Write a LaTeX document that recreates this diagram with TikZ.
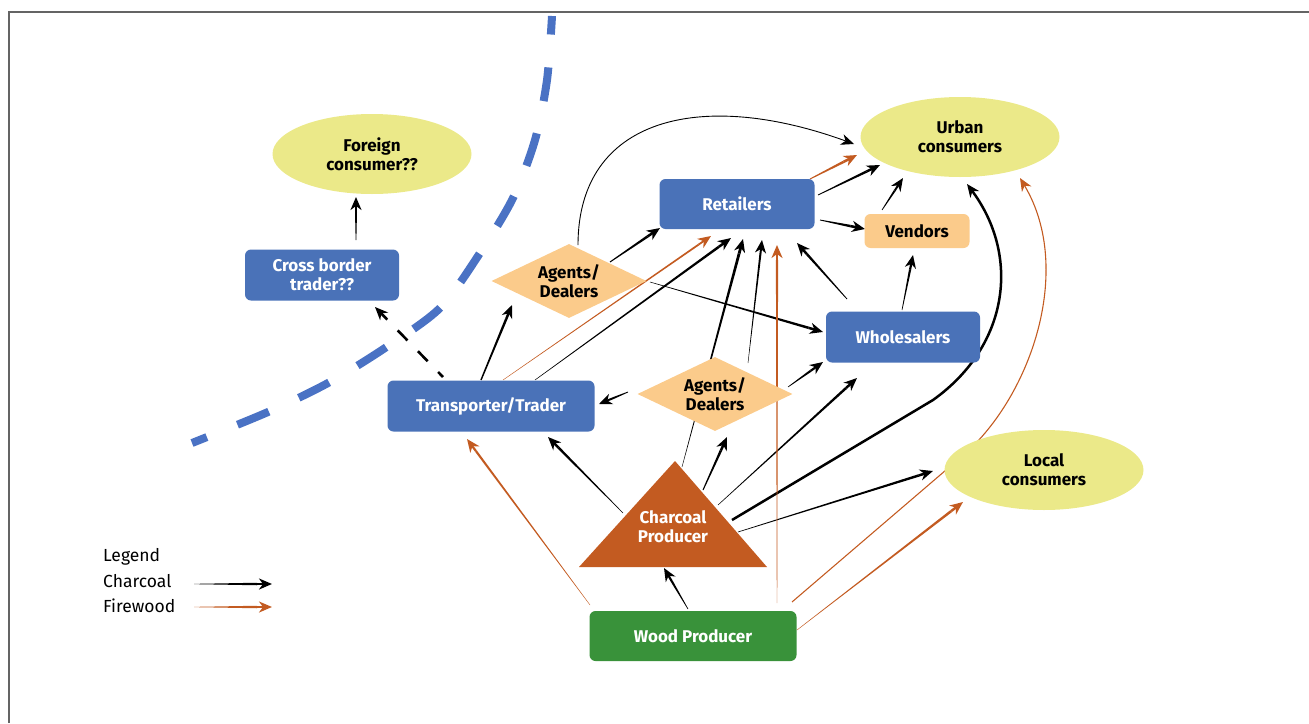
\documentclass[tikz,border=0pt]{standalone}
\usepackage{fontspec}
\setmainfont{Fira Sans}
\usetikzlibrary{shapes.geometric,arrows.meta,calc}
\definecolor{bluebox}{RGB}{74,114,184}
\definecolor{dashblue}{RGB}{74,114,196}
\definecolor{yell}{RGB}{235,233,137}
\definecolor{lorange}{RGB}{251,203,139}
\definecolor{fwc}{RGB}{195,91,33}
\definecolor{woodgreen}{RGB}{57,146,58}
\definecolor{framegray}{RGB}{100,100,100}
\pgfdeclarelayer{bg}
\pgfdeclarelayer{mid}
\pgfsetlayers{bg,mid,main}
% tapered arrow: #1 colour, #2 start, #3 end, #4 start width, #5 end width
\newcommand{\tap}[5]{%
  \coordinate (tS) at #2;
  \coordinate (tE) at #3;
  \coordinate (tB) at ($(tE)!15pt!(tS)$);
  \pgfmathsetmacro\tapA{#4/2}%
  \pgfmathsetmacro\tapB{#5/2}%
  \fill[#1] ($(tS)!\tapA pt!90:(tB)$) -- ($(tS)!\tapA pt!-90:(tB)$) --
            ($(tB)!\tapB pt!90:(tS)$) -- ($(tB)!\tapB pt!-90:(tS)$) -- cycle;
  \draw[#1, line width=#5, ->] (tB) -- (tE);
}
\begin{document}
\begin{tikzpicture}[x=1pt,y=-1pt,
  >={Stealth[length=13pt,width=11pt,inset=4pt]},
  lbl/.style={font=\bfseries\fontsize{17}{19}\selectfont, align=center, inner sep=0pt},
  bbox/.style={lbl, fill=bluebox, text=white, rounded corners=6pt, minimum width=#1, minimum height=51pt},
  oval/.style={lbl, ellipse, fill=yell, minimum width=199pt, minimum height=80pt},
  dia/.style={lbl, diamond, fill=lorange, aspect=2.1, minimum width=155pt, minimum height=74pt},
  legtext/.style={anchor=base west, inner sep=0pt, font=\fontsize{17.5}{20}\selectfont},
]
\useasboundingbox (0,0) rectangle (1309,723);

% frame
\draw[framegray, line width=1.3pt] (9,723) -- (9,12) -- (1309,12);

% border line
\draw[dashblue, line width=8pt, dash pattern=on 34pt off 33pt, dash phase=18pt]
  plot[smooth] coordinates {(192,443) (268,412) (328,383) (385,348) (440,308) (480,253) (513,198) (535,140) (547,80) (552,16)};

% nodes
\node[oval] (fc) at (372,154) {Foreign\\consumer??};
\node[oval] (ur) at (960,137) {Urban\\consumers};
\node[oval] (lc) at (1044,470) {Local\\consumers};
\node[bbox=155pt, minimum height=50pt] (re) at (737,204) {Retailers};
\node[lbl, fill=lorange, rounded corners=6pt, minimum width=105pt, minimum height=34pt] (ve) at (917,231) {Vendors};
\node[bbox=154pt] (wh) at (903,337) {Wholesalers};
\node[bbox=154pt] (cb) at (322,275) {Cross border\\trader??};
\node[bbox=207pt] (tt) at (491,406) {Transporter/Trader};
\node[dia] (a1) at (569,281) {Agents/\\Dealers};
\node[dia] (a2) at (715,394) {Agents/\\Dealers};
\node[lbl, text=white] (cp) at (673,527) {Charcoal\\Producer};
\node[bbox=207pt, fill=woodgreen, minimum height=50pt] (wp) at (693,636) {Wood Producer};

\begin{pgfonlayer}{mid}
\fill[fwc] ($(cp)+(-94,40)$) -- ($(cp)+(94,40)$) -- ($(cp)+(2,-66)$) -- cycle;
\end{pgfonlayer}

% legend
\node[legtext] (lg) at (103,561) {Legend};
\node[legtext] (lgc) at (103,587) {Charcoal};
\node[legtext] (lgf) at (103,612) {Firewood};
\coordinate (lc1) at (194,584);
\coordinate (lc2) at (272,584);
\coordinate (lf1) at (194,607);
\coordinate (lf2) at (272,607);
\tap{black}{(lc1)}{(lc2)}{0.3pt}{2.5pt}
\tap{fwc}{(lf1)}{(lf2)}{0.3pt}{2.5pt}

\begin{pgfonlayer}{bg}
% charcoal flows
\tap{black}{($(cb)+(34,-35)$)}{($(fc)+(-16,43)$)}{0.7pt}{2pt}
\draw[black, line width=2.6pt, dash pattern=on 14pt off 15pt, dash phase=7pt, ->] ($(tt)+(-48,-29)$) -- ($(cb)+(53,32)$);
\tap{black}{($(tt)+(-10,-26)$)}{($(a1)+(-57,24)$)}{1.4pt}{2.5pt}
\tap{black}{($(a1)+(41,-19)$)}{($(re)+(-77,24)$)}{1pt}{2.5pt}
\draw[black, line width=0.9pt, ->] ($(a1)+(9,-36)$) .. controls (578,118) and (700,88) .. ($(ur)+(-106,7)$);
\tap{black}{($(a1)+(81,1)$)}{($(wh)+(-80,-5)$)}{0.5pt}{2.5pt}
\tap{black}{($(tt)+(44,-26)$)}{($(re)+(-6,34)$)}{0.5pt}{2.5pt}
\tap{black}{($(cp)+(9,-60)$)}{($(re)+(6,35)$)}{0.4pt}{2.8pt}
\tap{black}{($(a2)+(33,-31)$)}{($(re)+(25,36)$)}{0.4pt}{2pt}
\tap{black}{($(wh)+(-56,-38)$)}{($(re)+(60,39)$)}{0.8pt}{2.5pt}
\tap{black}{($(re)+(81,-9)$)}{($(ur)+(-80,28)$)}{0.8pt}{2.5pt}
\tap{black}{($(re)+(83,16)$)}{($(ve)+(-52,-2)$)}{0.8pt}{2.5pt}
\tap{black}{($(ve)+(-35,-21)$)}{($(ur)+(-57,41)$)}{0.7pt}{2pt}
\tap{black}{($(wh)+(-1,-27)$)}{($(ve)+(-4,24)$)}{0.6pt}{2.2pt}
\tap{black}{($(a2)+(-87,-2)$)}{($(tt)+(108,-2)$)}{0.8pt}{2pt}
\tap{black}{($(a2)+(73,-7)$)}{($(wh)+(-80,25)$)}{0.6pt}{2.2pt}
\tap{black}{($(cp)+(30,-37)$)}{($(a2)+(12,43)$)}{1pt}{2.5pt}
\tap{black}{($(cp)+(-50,-14)$)}{($(tt)+(57,31)$)}{0.5pt}{2.5pt}
\tap{black}{($(cp)+(45,-22)$)}{($(wh)+(-46,41)$)}{0.5pt}{2.5pt}
\draw[black, line width=2.5pt, line join=round, ->] ($(cp)+(59,-7)$) -- (933,400) .. controls (1010,345) and (1020,255) .. ($(ur)+(7,47)$);
\tap{black}{($(cp)+(65,5)$)}{($(lc)+(-111,1)$)}{0.6pt}{2.5pt}
\tap{black}{($(wp)+(-5,-27)$)}{($(cp)+(-9,41)$)}{0.6pt}{2.2pt}
% firewood flows
\tap{fwc}{($(wp)+(-103,-31)$)}{($(tt)+(-24,33)$)}{0.4pt}{2.2pt}
\tap{fwc}{($(tt)+(12,-26)$)}{($(re)+(-26,32)$)}{0.4pt}{1.8pt}
\tap{fwc}{($(wp)+(84,-33)$)}{($(re)+(40,41)$)}{0.4pt}{2.2pt}
\tap{fwc}{($(re)+(73,-25)$)}{($(ur)+(-103,18)$)}{1pt}{2.5pt}
\tap{fwc}{($(wp)+(104,-6)$)}{($(lc)+(-81,32)$)}{0.4pt}{2.5pt}
\draw[fwc, line width=1.1pt, line join=round, ->] ($(wp)+(99,-34)$) -- (960,458) .. controls (1030,400) and (1075,270) .. ($(ur)+(60,41)$);
\end{pgfonlayer}
\end{tikzpicture}
\end{document}
